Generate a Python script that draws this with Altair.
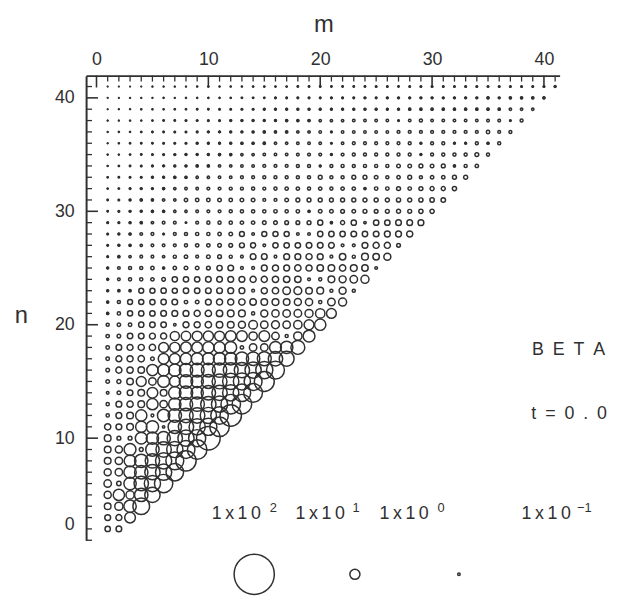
import altair as alt
import pandas as pd

# ---- circle values, one list per row n (m = 1 .. n) ----
r02 = [3.5, 3.8]
r03 = [4, 4.2, 11]
r04 = [5, 7, 14, 23]
r05 = [5.5, 12, 7, 16, 20]
r06 = [6, 2.5, 14, 18, 22, 27]
r07 = [5.5, 6, 14, 16, 20, 22, 25]
r08 = [5, 6, 13, 16, 18, 22, 26, 32]
r09 = [5, 5.5, 13, 2, 16, 20, 22, 26, 30]
r10 = [5, 2, 2, 13, 14, 16, 20, 22, 24, 41]
r11 = [4.5, 4, 5, 12, 14, 0.9, 16, 20, 22, 24, 30]
r12 = [1.5, 4, 5, 12, 1.2, 14, 16, 18, 20, 22, 25, 35]
r13 = [1.5, 4, 4.5, 5, 12, 6, 14, 16, 18, 20, 22, 30, 30]
r14 = [1.1, 1.8, 3.8, 5, 11, 5, 14, 16, 14, 18, 20, 22, 25, 28]
r15 = [1.8, 2.2, 4.8, 9.6, 6, 13, 11, 16, 14, 17, 19, 22, 24, 26, 31]
r16 = [1.8, 4.3, 4.6, 4.8, 12, 13, 14, 16, 17, 17, 18, 19, 20, 22, 24, 26]
r17 = [1.7, 4.1, 4.3, 4.6, 1.8, 11, 11, 12, 13, 13, 14, 14, 16, 16, 17, 18, 19]
r18 = [1.7, 3.8, 4.1, 4.3, 4.6, 9.6, 10, 11, 11, 12, 12, 13, 1.6, 6, 6, 13, 14, 17]
r19 = [1.6, 1.8, 3.6, 3.8, 4.1, 4.3, 8.4, 9, 9.6, 10, 9.6, 11, 11, 7.2, 11, 6, 1.4, 7.2, 13]
r20 = [1.4, 1.6, 1.7, 3.4, 3.6, 3.6, 1, 4.2, 4.3, 4.6, 4.8, 5, 5.4, 7.8, 6, 6.6, 6, 7.2, 9.6, 12]
r21 = [0.8, 1.5, 3.2, 3.4, 3.5, 3.8, 4, 4, 4.3, 4.6, 4.7, 4.9, 5.1, 1.4, 5.4, 5.7, 6.1, 6.2, 6.8, 8.8, 9.5]
r22 = [0.8, 1.4, 3, 3.2, 3.4, 3.5, 3.8, 1.6, 1.8, 4, 4.3, 4.3, 4.6, 4.7, 4.9, 5.1, 4.9, 5.4, 5.7, 1.5, 6.1, 6.8]
r23 = [0.7, 0.8, 0.8, 3, 3.2, 3.4, 3.2, 3.5, 3.5, 3.8, 3.8, 4, 4, 1.2, 4.3, 4.6, 6.1, 6.5, 4.9, 5.1, 1.4, 5.4, 1.4]
r24 = [0.7, 1.1, 1.4, 1.5, 1.6, 1.8, 3.4, 3.5, 3.5, 3.8, 3.8, 4, 4, 4.3, 4.3, 4.6, 4.7, 4.7, 1.2, 1.4, 5.1, 5.4, 6.1, 6.8]
r25 = [0.7, 1.1, 1.4, 1.4, 1.6, 0.8, 1.6, 1.8, 1.8, 1.9, 3.4, 3.8, 1.2, 1.2, 4, 4.3, 4, 4.6, 4.3, 4.7, 4.9, 4.6, 5.1, 4.7, 1.1]
r26 = [0.5, 0.8, 0.9, 1.1, 1.1, 0.9, 1.4, 1.6, 1.2, 1.8, 1.9, 1.4, 1.1, 3.8, 3.8, 1.1, 4, 4, 4.3, 4, 1.2, 4.7, 1.4, 5.1, 4.7, 5.4]
r27 = [0.5, 0.7, 0.8, 0.9, 1.1, 1.1, 1.2, 1.4, 1.6, 1.6, 1.8, 1.9, 3, 3.2, 1.1, 3.4, 3.5, 3.5, 3.8, 3.8, 3.9, 1.2, 1.2, 4, 4.3, 4.3, 1.9]
r28 = [0.5, 0.6, 0.8, 1.1, 1.2, 0.5, 1.2, 1.4, 1.5, 1.5, 1.6, 1.8, 3, 1.1, 3.1, 3.2, 3.2, 1.1, 1.1, 3.4, 3.5, 3.5, 3.8, 3.5, 3.8, 4, 4, 4.3]
r29 = [0.5, 0.5, 0.7, 0.8, 0.9, 1.1, 1.1, 0.4, 1.2, 1.4, 1.4, 1.5, 1.6, 1.6, 1.8, 1.8, 1.9, 1.9, 2, 3.2, 0.8, 2.2, 3.4, 0.9, 3.5, 3.5, 3.8, 3.8, 4]
r30 = [0.4, 0.5, 0.6, 0.7, 0.8, 0.8, 0.9, 0.9, 1.1, 1.2, 1.2, 1.4, 1.5, 1.5, 1.5, 1.6, 1.5, 1.6, 0.8, 1.8, 1.8, 1.9, 1.8, 2, 1.9, 2, 2.2, 2, 2.3, 2.4]
r31 = [0.4, 0.45, 0.65, 0.8, 0.8, 0.9, 0.9, 1.6, 1.7, 1.7, 1.8, 1.7, 1.8, 1.8, 1.2, 1.2, 1.8, 2, 2, 2.1, 2, 2.1, 2.1, 2.2, 2.1, 2.2, 2.3, 2.2, 2.3, 2.5, 2.6]
r32 = [0.33, 0.4, 0.5, 0.65, 0.65, 0.8, 0.9, 1, 1, 1.2, 1.2, 1.3, 1.3, 1.4, 1.3, 1.4, 1.6, 1.6, 1.4, 1.6, 1.4, 1.6, 1.6, 0.8, 1.7, 1.7, 2.1, 1.7, 2.1, 2.2, 2.2, 2.3]
r33 = [0.33, 0.4, 0.45, 0.5, 0.6, 0.65, 0.8, 0.8, 0.9, 0.9, 1, 1, 1.2, 1.2, 1.3, 1.3, 1.3, 1.4, 1.4, 2, 1.4, 1.4, 2, 2, 1.8, 1.4, 1.6, 2, 1.4, 1.6, 1.6, 2.1, 2.2]
r34 = [0.26, 0.33, 0.4, 0.45, 0.5, 0.6, 0.65, 0.7, 0.8, 0.8, 0.9, 0.9, 1, 1, 1.2, 1.2, 1.2, 1.3, 1.3, 0.65, 1.3, 1.4, 1.3, 1.4, 1.4, 1.4, 1.8, 1.8, 2, 1.8, 2, 0.8, 1.4, 1.6]
r35 = [0.26, 0.26, 0.33, 0.4, 0.45, 0.5, 0.6, 0.65, 0.65, 0.7, 0.8, 0.8, 0.9, 0.9, 1, 1, 1, 1.1, 1.2, 1.2, 0.65, 1.2, 1.3, 1.3, 1.3, 1.3, 1.3, 1.3, 0.65, 1.3, 1.4, 1.4, 1.4, 2, 1.4]
r36 = [0.2, 0.26, 0.33, 0.4, 0.4, 0.45, 0.5, 0.5, 0.6, 0.65, 0.65, 0.7, 0.8, 0.8, 0.85, 0.9, 0.9, 1, 1, 1, 0.5, 1, 1.2, 1.2, 1.2, 1.2, 1.2, 1.3, 0.65, 1.3, 1.3, 0.65, 0.65, 1.3, 0.8, 1.4]
r37 = [0.2, 0.26, 0.26, 0.33, 0.4, 0.4, 0.45, 0.45, 0.5, 0.6, 0.6, 0.65, 0.65, 0.7, 0.8, 0.8, 0.85, 0.9, 0.9, 1, 0.5, 1, 1, 1, 1, 1, 1.2, 1.2, 1.2, 1.2, 1.2, 1.2, 1.2, 1.2, 1.7, 1.2, 1.3]
r38 = [0.2, 0.2, 0.26, 0.26, 0.33, 0.4, 0.4, 0.45, 0.45, 0.5, 0.5, 0.6, 0.6, 0.65, 0.65, 0.7, 0.8, 0.8, 0.85, 0.9, 0.9, 0.9, 1, 1, 1, 1, 0.5, 1, 1.4, 1, 1, 1, 1, 1, 1.1, 1.1, 0.5, 1.3]
r39 = [0.13, 0.2, 0.2, 0.26, 0.26, 0.26, 0.33, 0.33, 0.4, 0.4, 0.45, 0.45, 0.5, 0.5, 0.6, 0.6, 0.65, 0.65, 0.65, 0.7, 0.65, 0.65, 0.65, 0.7, 0.7, 0.65, 0.7, 0.8, 0.8, 0.8, 0.8, 0.8, 0.8, 0.85, 0.85, 0.85, 0.9, 0.9, 0.9]
r40 = [0.13, 0.13, 0.2, 0.2, 0.2, 0.26, 0.2, 0.26, 0.26, 0.33, 0.33, 0.33, 0.4, 0.4, 0.4, 0.45, 0.45, 0.5, 0.5, 0.5, 0.5, 0.5, 0.5, 0.6, 0.5, 0.6, 0.6, 0.6, 0.65, 0.65, 0.6, 0.65, 0.65, 0.65, 0.8, 0.65, 0.8, 0.8, 0.8, 0.8]
r41 = [0.13, 0.13, 0.13, 0.13, 0.2, 0.2, 0.2, 0.2, 0.26, 0.26, 0.26, 0.26, 0.26, 0.33, 0.33, 0.33, 0.33, 0.4, 0.4, 0.4, 0.4, 0.4, 0.4, 0.4, 0.45, 0.45, 0.4, 0.45, 0.45, 0.45, 0.45, 0.45, 0.5, 0.5, 0.45, 0.5, 0.5, 0.5, 0.5, 0.5, 0.6]

row_lists = [r02, r03, r04, r05, r06, r07, r08, r09, r10, r11, r12, r13, r14, r15,
             r16, r17, r18, r19, r20, r21, r22, r23, r24, r25, r26, r27, r28, r29,
             r30, r31, r32, r33, r34, r35, r36, r37, r38, r39, r40, r41]
row_n = list(range(2, 42))

# ---- size key (the 1x10^-1 symbol is too small to be seen) ----
legend_values = [100, 10, 1]
legend_m = [14.1, 23.1, 32.4]
legend_n = [-2.0, -2.0, -2.0]
key_text = ["1\u2009x\u20091\u20090"] * 4
key_text_m = [12.5, 20.0, 27.5, 40.2]
key_exp = ["2", "1", "0", "\u22121"]
key_exp_m = [15.8, 23.2, 30.8, 43.6]
key_text_n = 3.31
key_exp_n = 3.8

# ---- annotations ----
SP = "\u2002"
notes = ["B" + SP + "E" + SP + "T" + SP + "A", "t" + SP + "=" + SP + "0" + SP + "." + SP + "0"]
notes_m = [42.2, 42.25]
notes_n = [17.78, 12.1]

# ---- axis ticks ----
tick_m = list(range(0, 42))
tick_n = list(range(1, 42))

FONT = "Liberation Sans"
INK = "#303030"
SMALL = 0.9   # below this the ring closes into a solid dot

recs = []
for n, vals in zip(row_n, row_lists):
    for i, v in enumerate(vals):
        recs.append({"m": i + 1, "n": n, "v": v})
df = pd.DataFrame(recs)

leg_df = pd.DataFrame({"m": legend_m, "n": legend_n, "v": legend_values})
key_df = pd.DataFrame({"m": key_text_m, "n": [key_text_n] * 4, "label": key_text})
exp_df = pd.DataFrame({"m": key_exp_m, "n": [key_exp_n] * 4, "label": key_exp})
note_df = pd.DataFrame({"m": notes_m, "n": notes_n, "label": notes})
tm_df = pd.DataFrame({"m": tick_m, "major": [t % 10 == 0 for t in tick_m]})
tn_df = pd.DataFrame({"n": tick_n, "major": [t % 10 == 0 for t in tick_n]})

xs = alt.Scale(domain=[-0.93, 41.4], nice=False, zero=False)
ys = alt.Scale(domain=[1.0, 41.96], nice=False, zero=False)
ss = alt.Scale(type="pow", exponent=1.2, domain=[0, 100], range=[0, 1656])

x_axis = alt.Axis(orient="top", values=[0, 10, 20, 30, 40], ticks=False, grid=False,
                  domainColor=INK, domainWidth=2, labelFont=FONT, labelFontSize=18,
                  labelColor=INK, labelPadding=7, labelFlush=False, labelOverlap=False,
                  title="m", titleFont=FONT, titleFontSize=24, titleFontWeight="normal",
                  titleColor=INK, titleX=240, titleY=-52, titleAlign="center",
                  titleBaseline="middle")
y_axis = alt.Axis(orient="left", values=[2.35, 10, 20, 30, 40],
                  labelExpr="datum.value < 5 ? '0' : datum.label",
                  ticks=False, grid=False, domainColor=INK, domainWidth=2,
                  labelFont=FONT, labelFontSize=18, labelColor=INK, labelPadding=12,
                  labelFlush=False, labelOverlap=False,
                  title="n", titleAngle=0, titleFont=FONT, titleFontSize=24,
                  titleFontWeight="normal", titleColor=INK, titleX=-66, titleY=243,
                  titleAlign="center", titleBaseline="middle")

X = alt.X("m:Q", scale=xs, axis=x_axis)
Y = alt.Y("n:Q", scale=ys, axis=y_axis)
S = alt.Size("v:Q", scale=ss, legend=None)

circles = alt.Chart(df).mark_point(shape="circle", filled=False, stroke=INK,
                                   strokeWidth=1.5, opacity=1).encode(x=X, y=Y, size=S)

dots = alt.Chart(df).transform_filter(f"datum.v < {SMALL}").mark_point(
    shape="circle", filled=True, fill=INK, stroke=INK, strokeWidth=1.0,
    opacity=1).encode(x=X, y=Y, size=S)

legend_circles = alt.Chart(leg_df).mark_point(shape="circle", filled=False, stroke=INK,
                                              strokeWidth=1.5, opacity=1).encode(
    x=X, y=Y, size=S)

x_minor = alt.Chart(tm_df).transform_filter("!datum.major").mark_rule(
    color=INK, strokeWidth=1.3).encode(x=X, y=alt.value(0), y2=alt.value(6))
x_major = alt.Chart(tm_df).transform_filter("datum.major").mark_rule(
    color=INK, strokeWidth=1.6).encode(x=X, y=alt.value(0), y2=alt.value(12))
y_minor = alt.Chart(tn_df).transform_filter("!datum.major").mark_rule(
    color=INK, strokeWidth=1.3).encode(y=Y, x=alt.value(0), x2=alt.value(6))
y_major = alt.Chart(tn_df).transform_filter("datum.major").mark_rule(
    color=INK, strokeWidth=1.6).encode(y=Y, x=alt.value(0), x2=alt.value(12))

key_txt = alt.Chart(key_df).mark_text(font=FONT, fontSize=18, color=INK,
                                      align="center", baseline="middle").encode(
    x=X, y=Y, text="label:N")
exp_txt = alt.Chart(exp_df).mark_text(font=FONT, fontSize=13, color=INK,
                                      align="center", baseline="middle").encode(
    x=X, y=Y, text="label:N")
note_txt = alt.Chart(note_df).mark_text(font=FONT, fontSize=18, color=INK,
                                        align="center", baseline="middle").encode(
    x=X, y=Y, text="label:N")

chart = alt.layer(circles, dots, legend_circles, x_minor, x_major, y_minor, y_major,
                  key_txt, exp_txt, note_txt).properties(
    width=479, height=470,
    padding={"left": 79, "top": 65, "right": 53, "bottom": 56},
    autosize=alt.AutoSizeParams(type="none"),
    background="white",
).configure_view(stroke=None)

chart.save("out.html", embed_options={"renderer": "svg", "actions": False})
